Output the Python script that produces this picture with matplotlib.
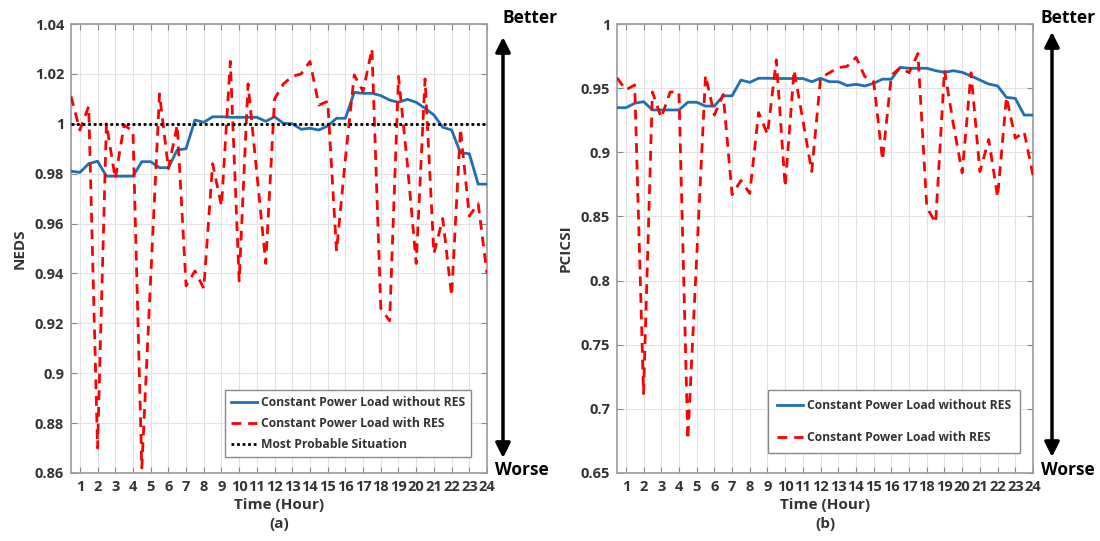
import numpy as np
import matplotlib
matplotlib.use("Agg")
import matplotlib.pyplot as plt

plt.rcParams['font.family'] = ['Open Sans', 'DejaVu Sans']
plt.rcParams['font.weight'] = 'bold'

# half-hour samples, 0.5 .. 24
hours = np.arange(1, 49) * 0.5

neds_no_res = [0.981, 0.9805, 0.984, 0.985, 0.979, 0.979, 0.979, 0.979,
               0.9848, 0.9848, 0.9824, 0.9824, 0.9895, 0.990, 1.0015, 1.0006,
               1.0028, 1.0028, 1.0026, 1.0026, 1.0026, 1.0026, 1.001, 1.0028,
               1.0002, 1.0, 0.9978, 0.9982, 0.9975, 0.9991, 1.0022, 1.0022,
               1.0126, 1.0122, 1.0122, 1.0113, 1.0095, 1.0086, 1.0098, 1.0086,
               1.0062, 1.0035, 0.9986, 0.9975, 0.9884, 0.988, 0.9758, 0.9758]

neds_res = [1.011, 0.9975, 1.007, 0.870, 1.0, 0.978, 0.9995, 0.997,
            0.862, 0.938, 1.012, 0.982, 0.9995, 0.935, 0.941, 0.934,
            0.984, 0.967, 1.025, 0.937, 1.016, 0.980, 0.944, 1.010,
            1.016, 1.019, 1.020, 1.025, 1.0075, 1.009, 0.949, 0.986,
            1.0196, 1.013, 1.030, 0.926, 0.921, 1.019, 0.984, 0.944,
            1.018, 0.948, 0.962, 0.931, 0.998, 0.963, 0.968, 0.940]

pcicsi_no_res = [0.9348, 0.9347, 0.9382, 0.9395, 0.933, 0.933, 0.933, 0.933,
                 0.939, 0.939, 0.936, 0.936, 0.944, 0.944, 0.9563, 0.9545,
                 0.9577, 0.9577, 0.9575, 0.9575, 0.9575, 0.9575, 0.955, 0.9577,
                 0.955, 0.955, 0.952, 0.953, 0.9517, 0.9538, 0.957, 0.957,
                 0.9662, 0.9655, 0.9655, 0.9655, 0.9636, 0.9623, 0.9636, 0.9623,
                 0.9595, 0.9563, 0.9532, 0.9517, 0.9428, 0.942, 0.929, 0.929]

pcicsi_res = [0.958, 0.9486, 0.9525, 0.712, 0.947, 0.927, 0.947, 0.947,
              0.676, 0.818, 0.960, 0.929, 0.945, 0.867, 0.878, 0.868,
              0.931, 0.914, 0.972, 0.873, 0.964, 0.925, 0.885, 0.958,
              0.962, 0.966, 0.967, 0.974, 0.959, 0.955, 0.894, 0.960,
              0.966, 0.962, 0.977, 0.857, 0.845, 0.964, 0.922, 0.884,
              0.962, 0.885, 0.910, 0.865, 0.943, 0.911, 0.916, 0.882]

neds_ticks = [0.86, 0.88, 0.9, 0.92, 0.94, 0.96, 0.98, 1, 1.02, 1.04]
neds_labels = ['0.86', '0.88', '0.9', '0.92', '0.94', '0.96', '0.98', '1', '1.02', '1.04']
pcicsi_ticks = [0.65, 0.7, 0.75, 0.8, 0.85, 0.9, 0.95, 1]
pcicsi_labels = ['0.65', '0.7', '0.75', '0.8', '0.85', '0.9', '0.95', '1']
hour_ticks = list(range(1, 25))

BLUE = '#1f6fb2'
RED = '#ff0000'
TXT = '#333333'

fig = plt.figure(figsize=(11, 5.41), dpi=100)
ax1 = fig.add_axes([71 / 1100, 68 / 541, 416 / 1100, 449 / 541])
ax2 = fig.add_axes([617 / 1100, 68 / 541, 416 / 1100, 449 / 541])


def style_axes(ax, yticks, ylabels, ylim, ylabel, sub):
    ax.set_xlim(0.5, 24)
    ax.set_ylim(*ylim)
    ax.set_xticks(hour_ticks)
    ax.set_xticklabels([str(h) for h in hour_ticks])
    ax.set_yticks(yticks)
    ax.set_yticklabels(ylabels)
    ax.grid(True, color='#e3e3e3', linewidth=0.8)
    ax.set_axisbelow(True)
    ax.tick_params(direction='in', top=True, right=True, length=4,
                   color='#888888', labelcolor=TXT, labelsize=10.5, pad=5)
    for s in ax.spines.values():
        s.set_color('#9a9a9a')
        s.set_linewidth(1.2)
    ax.set_ylabel(ylabel, fontsize=11, fontweight='bold', color=TXT, labelpad=6)
    ax.set_xlabel('Time (Hour)\n' + sub, fontsize=11, fontweight='bold',
                  color=TXT, linespacing=1.45, labelpad=3)


# (a) NEDS
ax1.plot(hours, neds_no_res, color=BLUE, lw=2.0, label='Constant Power Load without RES', zorder=3)
ax1.plot(hours, neds_res, color=RED, lw=2.0, dashes=(3.5, 2.5), label='Constant Power Load with RES', zorder=4)
ax1.axhline(1.0, color='black', lw=2.0, linestyle=(0, (1, 1)), label='Most Probable Situation', zorder=5)
style_axes(ax1, neds_ticks, neds_labels, (0.86, 1.04), 'NEDS', '(a)')
leg1 = ax1.legend(loc='lower right', bbox_to_anchor=(0.962, 0.036), borderaxespad=0,
                  fontsize=8.7, handlelength=2.2, handletextpad=0.3, labelspacing=0.65,
                  fancybox=False, framealpha=1, edgecolor='#888888', borderpad=0.5)
for t in leg1.get_texts():
    t.set_color(TXT)

# (b) PCICSI
ax2.plot(hours, pcicsi_no_res, color=BLUE, lw=2.0, label='Constant Power Load without RES', zorder=3)
ax2.plot(hours, pcicsi_res, color=RED, lw=2.0, dashes=(3.5, 2.5), label='Constant Power Load with RES', zorder=4)
style_axes(ax2, pcicsi_ticks, pcicsi_labels, (0.65, 1.0), 'PCICSI', '(b)')
leg2 = ax2.legend(loc='lower right', bbox_to_anchor=(0.969, 0.045), borderaxespad=0,
                  fontsize=8.7, handlelength=2.2, handletextpad=0.3, labelspacing=1.55,
                  fancybox=False, framealpha=1, edgecolor='#888888', borderpad=0.75)
for t in leg2.get_texts():
    t.set_color(TXT)

# Better / Worse arrows
H = 541
for x_arrow, top, bot, x_txt_b, x_txt_w in [(503, 37, 458, 502, 495), (1052, 32, 457, 1041, 1041)]:
    fig.add_artist(matplotlib.patches.FancyArrowPatch(
        (x_arrow / 1100, 1 - bot / H), (x_arrow / 1100, 1 - top / H),
        transform=fig.transFigure, arrowstyle='<|-|>', mutation_scale=22,
        lw=2.5, color='black', shrinkA=0, shrinkB=0))
    fig.text(x_txt_b / 1100, 1 - 18 / H, 'Better', ha='left', va='center',
             fontsize=12.5, fontweight='bold', color='black')
    fig.text(x_txt_w / 1100, 1 - 470 / H, 'Worse', ha='left', va='center',
             fontsize=12.5, fontweight='bold', color='black')

fig.savefig('out.png', dpi=100)
